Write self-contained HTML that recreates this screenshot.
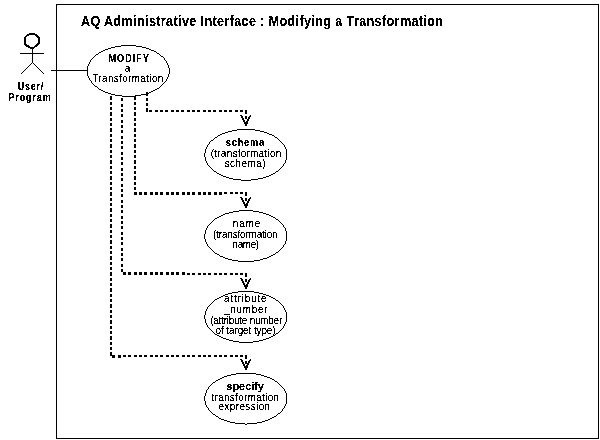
<!DOCTYPE html>
<html><head><meta charset="utf-8">
<style>
html,body{margin:0;padding:0;background:#fff;}
svg{display:block;will-change:transform;}
text{font-family:"Liberation Sans",sans-serif;fill:#000;}
</style></head><body>
<svg width="600" height="440" viewBox="0 0 600 440">
<defs>
<filter id="bw" x="0" y="0" width="600" height="440" filterUnits="userSpaceOnUse"><feComponentTransfer><feFuncA type="discrete" tableValues="0 0 1 1 1"/></feComponentTransfer></filter>
<filter id="bwb" x="0" y="0" width="600" height="440" filterUnits="userSpaceOnUse"><feComponentTransfer><feFuncA type="discrete" tableValues="0 1 1"/></feComponentTransfer></filter>
<filter id="bwt" x="0" y="0" width="600" height="440" filterUnits="userSpaceOnUse"><feComponentTransfer><feFuncA type="discrete" tableValues="0 0 1 1 1"/></feComponentTransfer></filter>
</defs>
<rect x="0" y="0" width="600" height="440" fill="#fff"/>
<g fill="none" stroke="#000" shape-rendering="crispEdges">
<path d="M56.5 4.5H598.5V438.5H56.5Z" stroke-width="1"/>
<path d="M20 53.5H44M32.5 48V62.5" stroke-width="1"/>
<path d="M51 70.5H87.5" stroke-width="1"/>
<g fill="#000" stroke="none"><rect x="29" y="33" width="6" height="1"/><rect x="27" y="34" width="10" height="1"/><rect x="26" y="35" width="3" height="1"/><rect x="35" y="35" width="3" height="1"/><rect x="25" y="36" width="2" height="1"/><rect x="36" y="36" width="3" height="1"/><rect x="24" y="37" width="2" height="1"/><rect x="37" y="37" width="3" height="1"/><rect x="24" y="38" width="2" height="1"/><rect x="38" y="38" width="2" height="1"/><rect x="24" y="39" width="2" height="1"/><rect x="38" y="39" width="2" height="1"/><rect x="24" y="40" width="2" height="1"/><rect x="38" y="40" width="2" height="1"/><rect x="24" y="41" width="2" height="1"/><rect x="38" y="41" width="2" height="1"/><rect x="24" y="42" width="2" height="1"/><rect x="38" y="42" width="2" height="1"/><rect x="24" y="43" width="2" height="1"/><rect x="37" y="43" width="3" height="1"/><rect x="24" y="44" width="3" height="1"/><rect x="36" y="44" width="3" height="1"/><rect x="25" y="45" width="4" height="1"/><rect x="35" y="45" width="3" height="1"/><rect x="26" y="46" width="4" height="1"/><rect x="34" y="46" width="3" height="1"/><rect x="28" y="47" width="7" height="1"/><rect x="30" y="48" width="4" height="1"/></g>
<g fill="#000" stroke="none"><rect x="31" y="63" width="1" height="1"/><rect x="33" y="63" width="1" height="1"/><rect x="30" y="64" width="1" height="1"/><rect x="34" y="64" width="1" height="1"/><rect x="29" y="65" width="1" height="1"/><rect x="35" y="65" width="1" height="1"/><rect x="28" y="66" width="1" height="1"/><rect x="36" y="66" width="1" height="1"/><rect x="27" y="67" width="1" height="1"/><rect x="37" y="67" width="1" height="1"/><rect x="26" y="68" width="1" height="1"/><rect x="38" y="68" width="1" height="1"/><rect x="25" y="69" width="1" height="1"/><rect x="39" y="69" width="1" height="1"/><rect x="24" y="70" width="1" height="1"/><rect x="40" y="70" width="1" height="1"/><rect x="23" y="71" width="1" height="1"/><rect x="41" y="71" width="1" height="1"/><rect x="22" y="72" width="1" height="1"/><rect x="42" y="72" width="1" height="1"/><rect x="21" y="73" width="1" height="1"/><rect x="43" y="73" width="1" height="1"/></g>
</g>
<g fill="#000" shape-rendering="crispEdges"><rect x="121" y="45" width="15" height="1"/><rect x="115" y="46" width="6" height="1"/><rect x="136" y="46" width="6" height="1"/><rect x="111" y="47" width="4" height="1"/><rect x="142" y="47" width="4" height="1"/><rect x="108" y="48" width="3" height="1"/><rect x="146" y="48" width="3" height="1"/><rect x="105" y="49" width="3" height="1"/><rect x="149" y="49" width="2" height="1"/><rect x="103" y="50" width="2" height="1"/><rect x="151" y="50" width="3" height="1"/><rect x="101" y="51" width="2" height="1"/><rect x="154" y="51" width="2" height="1"/><rect x="99" y="52" width="2" height="1"/><rect x="156" y="52" width="1" height="1"/><rect x="98" y="53" width="1" height="1"/><rect x="157" y="53" width="2" height="1"/><rect x="96" y="54" width="2" height="1"/><rect x="159" y="54" width="1" height="1"/><rect x="95" y="55" width="1" height="1"/><rect x="160" y="55" width="1" height="1"/><rect x="94" y="56" width="1" height="1"/><rect x="161" y="56" width="2" height="1"/><rect x="93" y="57" width="1" height="1"/><rect x="163" y="57" width="1" height="1"/><rect x="92" y="58" width="1" height="1"/><rect x="164" y="58" width="1" height="1"/><rect x="91" y="59" width="1" height="1"/><rect x="164" y="59" width="1" height="1"/><rect x="90" y="60" width="1" height="1"/><rect x="165" y="60" width="1" height="1"/><rect x="90" y="61" width="1" height="1"/><rect x="166" y="61" width="1" height="1"/><rect x="89" y="62" width="1" height="1"/><rect x="166" y="62" width="1" height="1"/><rect x="89" y="63" width="1" height="1"/><rect x="167" y="63" width="1" height="1"/><rect x="88" y="64" width="1" height="1"/><rect x="167" y="64" width="1" height="1"/><rect x="88" y="65" width="1" height="1"/><rect x="168" y="65" width="1" height="1"/><rect x="87" y="66" width="1" height="1"/><rect x="168" y="66" width="1" height="1"/><rect x="87" y="67" width="1" height="1"/><rect x="168" y="67" width="1" height="1"/><rect x="87" y="68" width="1" height="1"/><rect x="169" y="68" width="1" height="1"/><rect x="87" y="69" width="1" height="1"/><rect x="169" y="69" width="1" height="1"/><rect x="87" y="70" width="1" height="1"/><rect x="169" y="70" width="1" height="1"/><rect x="87" y="71" width="1" height="1"/><rect x="169" y="71" width="1" height="1"/><rect x="87" y="72" width="1" height="1"/><rect x="169" y="72" width="1" height="1"/><rect x="87" y="73" width="1" height="1"/><rect x="169" y="73" width="1" height="1"/><rect x="87" y="74" width="1" height="1"/><rect x="168" y="74" width="1" height="1"/><rect x="87" y="75" width="1" height="1"/><rect x="168" y="75" width="1" height="1"/><rect x="88" y="76" width="1" height="1"/><rect x="168" y="76" width="1" height="1"/><rect x="88" y="77" width="1" height="1"/><rect x="167" y="77" width="1" height="1"/><rect x="89" y="78" width="1" height="1"/><rect x="167" y="78" width="1" height="1"/><rect x="89" y="79" width="1" height="1"/><rect x="166" y="79" width="1" height="1"/><rect x="90" y="80" width="1" height="1"/><rect x="166" y="80" width="1" height="1"/><rect x="91" y="81" width="1" height="1"/><rect x="165" y="81" width="1" height="1"/><rect x="91" y="82" width="1" height="1"/><rect x="164" y="82" width="1" height="1"/><rect x="92" y="83" width="1" height="1"/><rect x="163" y="83" width="1" height="1"/><rect x="93" y="84" width="1" height="1"/><rect x="162" y="84" width="1" height="1"/><rect x="94" y="85" width="1" height="1"/><rect x="161" y="85" width="1" height="1"/><rect x="95" y="86" width="2" height="1"/><rect x="160" y="86" width="1" height="1"/><rect x="97" y="87" width="1" height="1"/><rect x="159" y="87" width="1" height="1"/><rect x="98" y="88" width="1" height="1"/><rect x="157" y="88" width="2" height="1"/><rect x="99" y="89" width="2" height="1"/><rect x="155" y="89" width="2" height="1"/><rect x="101" y="90" width="2" height="1"/><rect x="153" y="90" width="2" height="1"/><rect x="103" y="91" width="2" height="1"/><rect x="151" y="91" width="2" height="1"/><rect x="105" y="92" width="3" height="1"/><rect x="149" y="92" width="2" height="1"/><rect x="108" y="93" width="3" height="1"/><rect x="146" y="93" width="3" height="1"/><rect x="111" y="94" width="4" height="1"/><rect x="141" y="94" width="5" height="1"/><rect x="115" y="95" width="7" height="1"/><rect x="135" y="95" width="6" height="1"/><rect x="122" y="96" width="13" height="1"/><rect x="237" y="129" width="18" height="1"/><rect x="232" y="130" width="5" height="1"/><rect x="255" y="130" width="5" height="1"/><rect x="228" y="131" width="4" height="1"/><rect x="260" y="131" width="4" height="1"/><rect x="225" y="132" width="3" height="1"/><rect x="264" y="132" width="3" height="1"/><rect x="222" y="133" width="3" height="1"/><rect x="267" y="133" width="2" height="1"/><rect x="220" y="134" width="2" height="1"/><rect x="269" y="134" width="3" height="1"/><rect x="218" y="135" width="2" height="1"/><rect x="272" y="135" width="2" height="1"/><rect x="217" y="136" width="1" height="1"/><rect x="274" y="136" width="1" height="1"/><rect x="215" y="137" width="2" height="1"/><rect x="275" y="137" width="2" height="1"/><rect x="214" y="138" width="1" height="1"/><rect x="277" y="138" width="1" height="1"/><rect x="213" y="139" width="1" height="1"/><rect x="278" y="139" width="1" height="1"/><rect x="211" y="140" width="2" height="1"/><rect x="279" y="140" width="1" height="1"/><rect x="210" y="141" width="1" height="1"/><rect x="280" y="141" width="1" height="1"/><rect x="209" y="142" width="1" height="1"/><rect x="281" y="142" width="1" height="1"/><rect x="209" y="143" width="1" height="1"/><rect x="282" y="143" width="1" height="1"/><rect x="208" y="144" width="1" height="1"/><rect x="283" y="144" width="1" height="1"/><rect x="207" y="145" width="1" height="1"/><rect x="284" y="145" width="1" height="1"/><rect x="207" y="146" width="1" height="1"/><rect x="284" y="146" width="1" height="1"/><rect x="206" y="147" width="1" height="1"/><rect x="285" y="147" width="1" height="1"/><rect x="206" y="148" width="1" height="1"/><rect x="285" y="148" width="1" height="1"/><rect x="205" y="149" width="1" height="1"/><rect x="286" y="149" width="1" height="1"/><rect x="205" y="150" width="1" height="1"/><rect x="286" y="150" width="1" height="1"/><rect x="205" y="151" width="1" height="1"/><rect x="286" y="151" width="1" height="1"/><rect x="205" y="152" width="1" height="1"/><rect x="286" y="152" width="1" height="1"/><rect x="204" y="153" width="1" height="1"/><rect x="286" y="153" width="1" height="1"/><rect x="204" y="154" width="1" height="1"/><rect x="286" y="154" width="1" height="1"/><rect x="204" y="155" width="1" height="1"/><rect x="286" y="155" width="1" height="1"/><rect x="204" y="156" width="1" height="1"/><rect x="286" y="156" width="1" height="1"/><rect x="205" y="157" width="1" height="1"/><rect x="286" y="157" width="1" height="1"/><rect x="205" y="158" width="1" height="1"/><rect x="286" y="158" width="1" height="1"/><rect x="205" y="159" width="1" height="1"/><rect x="286" y="159" width="1" height="1"/><rect x="205" y="160" width="1" height="1"/><rect x="285" y="160" width="1" height="1"/><rect x="206" y="161" width="1" height="1"/><rect x="285" y="161" width="1" height="1"/><rect x="206" y="162" width="1" height="1"/><rect x="285" y="162" width="1" height="1"/><rect x="207" y="163" width="1" height="1"/><rect x="284" y="163" width="1" height="1"/><rect x="207" y="164" width="1" height="1"/><rect x="283" y="164" width="1" height="1"/><rect x="208" y="165" width="1" height="1"/><rect x="283" y="165" width="1" height="1"/><rect x="209" y="166" width="1" height="1"/><rect x="282" y="166" width="1" height="1"/><rect x="210" y="167" width="1" height="1"/><rect x="281" y="167" width="1" height="1"/><rect x="211" y="168" width="1" height="1"/><rect x="280" y="168" width="1" height="1"/><rect x="212" y="169" width="1" height="1"/><rect x="279" y="169" width="1" height="1"/><rect x="213" y="170" width="1" height="1"/><rect x="278" y="170" width="1" height="1"/><rect x="214" y="171" width="2" height="1"/><rect x="276" y="171" width="2" height="1"/><rect x="216" y="172" width="1" height="1"/><rect x="275" y="172" width="1" height="1"/><rect x="217" y="173" width="2" height="1"/><rect x="273" y="173" width="2" height="1"/><rect x="219" y="174" width="2" height="1"/><rect x="271" y="174" width="2" height="1"/><rect x="221" y="175" width="2" height="1"/><rect x="269" y="175" width="2" height="1"/><rect x="223" y="176" width="3" height="1"/><rect x="266" y="176" width="3" height="1"/><rect x="226" y="177" width="3" height="1"/><rect x="263" y="177" width="3" height="1"/><rect x="229" y="178" width="4" height="1"/><rect x="258" y="178" width="5" height="1"/><rect x="233" y="179" width="8" height="1"/><rect x="251" y="179" width="7" height="1"/><rect x="241" y="180" width="10" height="1"/><rect x="239" y="210" width="14" height="1"/><rect x="233" y="211" width="6" height="1"/><rect x="253" y="211" width="6" height="1"/><rect x="229" y="212" width="4" height="1"/><rect x="259" y="212" width="4" height="1"/><rect x="225" y="213" width="4" height="1"/><rect x="263" y="213" width="3" height="1"/><rect x="223" y="214" width="2" height="1"/><rect x="266" y="214" width="3" height="1"/><rect x="221" y="215" width="2" height="1"/><rect x="269" y="215" width="2" height="1"/><rect x="219" y="216" width="2" height="1"/><rect x="271" y="216" width="2" height="1"/><rect x="217" y="217" width="2" height="1"/><rect x="273" y="217" width="2" height="1"/><rect x="215" y="218" width="2" height="1"/><rect x="275" y="218" width="1" height="1"/><rect x="214" y="219" width="1" height="1"/><rect x="276" y="219" width="2" height="1"/><rect x="213" y="220" width="1" height="1"/><rect x="278" y="220" width="1" height="1"/><rect x="212" y="221" width="1" height="1"/><rect x="279" y="221" width="1" height="1"/><rect x="211" y="222" width="1" height="1"/><rect x="280" y="222" width="1" height="1"/><rect x="210" y="223" width="1" height="1"/><rect x="281" y="223" width="1" height="1"/><rect x="209" y="224" width="1" height="1"/><rect x="282" y="224" width="1" height="1"/><rect x="208" y="225" width="1" height="1"/><rect x="283" y="225" width="1" height="1"/><rect x="207" y="226" width="1" height="1"/><rect x="283" y="226" width="1" height="1"/><rect x="207" y="227" width="1" height="1"/><rect x="284" y="227" width="1" height="1"/><rect x="206" y="228" width="1" height="1"/><rect x="285" y="228" width="1" height="1"/><rect x="206" y="229" width="1" height="1"/><rect x="285" y="229" width="1" height="1"/><rect x="205" y="230" width="1" height="1"/><rect x="285" y="230" width="1" height="1"/><rect x="205" y="231" width="1" height="1"/><rect x="286" y="231" width="1" height="1"/><rect x="205" y="232" width="1" height="1"/><rect x="286" y="232" width="1" height="1"/><rect x="205" y="233" width="1" height="1"/><rect x="286" y="233" width="1" height="1"/><rect x="204" y="234" width="1" height="1"/><rect x="286" y="234" width="1" height="1"/><rect x="204" y="235" width="1" height="1"/><rect x="286" y="235" width="1" height="1"/><rect x="204" y="236" width="1" height="1"/><rect x="286" y="236" width="1" height="1"/><rect x="204" y="237" width="1" height="1"/><rect x="286" y="237" width="1" height="1"/><rect x="204" y="238" width="1" height="1"/><rect x="286" y="238" width="1" height="1"/><rect x="205" y="239" width="1" height="1"/><rect x="286" y="239" width="1" height="1"/><rect x="205" y="240" width="1" height="1"/><rect x="286" y="240" width="1" height="1"/><rect x="205" y="241" width="1" height="1"/><rect x="285" y="241" width="1" height="1"/><rect x="206" y="242" width="1" height="1"/><rect x="285" y="242" width="1" height="1"/><rect x="206" y="243" width="1" height="1"/><rect x="285" y="243" width="1" height="1"/><rect x="207" y="244" width="1" height="1"/><rect x="284" y="244" width="1" height="1"/><rect x="207" y="245" width="1" height="1"/><rect x="283" y="245" width="1" height="1"/><rect x="208" y="246" width="1" height="1"/><rect x="283" y="246" width="1" height="1"/><rect x="209" y="247" width="1" height="1"/><rect x="282" y="247" width="1" height="1"/><rect x="210" y="248" width="1" height="1"/><rect x="281" y="248" width="1" height="1"/><rect x="211" y="249" width="1" height="1"/><rect x="280" y="249" width="1" height="1"/><rect x="212" y="250" width="1" height="1"/><rect x="279" y="250" width="1" height="1"/><rect x="213" y="251" width="1" height="1"/><rect x="278" y="251" width="1" height="1"/><rect x="214" y="252" width="1" height="1"/><rect x="276" y="252" width="2" height="1"/><rect x="215" y="253" width="2" height="1"/><rect x="275" y="253" width="1" height="1"/><rect x="217" y="254" width="2" height="1"/><rect x="273" y="254" width="2" height="1"/><rect x="219" y="255" width="1" height="1"/><rect x="271" y="255" width="2" height="1"/><rect x="220" y="256" width="3" height="1"/><rect x="269" y="256" width="2" height="1"/><rect x="223" y="257" width="2" height="1"/><rect x="267" y="257" width="2" height="1"/><rect x="225" y="258" width="3" height="1"/><rect x="263" y="258" width="4" height="1"/><rect x="228" y="259" width="4" height="1"/><rect x="260" y="259" width="3" height="1"/><rect x="232" y="260" width="6" height="1"/><rect x="254" y="260" width="6" height="1"/><rect x="238" y="261" width="16" height="1"/><rect x="238" y="291" width="16" height="1"/><rect x="232" y="292" width="6" height="1"/><rect x="254" y="292" width="5" height="1"/><rect x="228" y="293" width="4" height="1"/><rect x="259" y="293" width="4" height="1"/><rect x="225" y="294" width="3" height="1"/><rect x="263" y="294" width="3" height="1"/><rect x="223" y="295" width="2" height="1"/><rect x="266" y="295" width="3" height="1"/><rect x="221" y="296" width="2" height="1"/><rect x="269" y="296" width="2" height="1"/><rect x="219" y="297" width="2" height="1"/><rect x="271" y="297" width="2" height="1"/><rect x="217" y="298" width="2" height="1"/><rect x="273" y="298" width="2" height="1"/><rect x="215" y="299" width="2" height="1"/><rect x="275" y="299" width="1" height="1"/><rect x="214" y="300" width="1" height="1"/><rect x="276" y="300" width="2" height="1"/><rect x="213" y="301" width="1" height="1"/><rect x="278" y="301" width="1" height="1"/><rect x="212" y="302" width="1" height="1"/><rect x="279" y="302" width="1" height="1"/><rect x="211" y="303" width="1" height="1"/><rect x="280" y="303" width="1" height="1"/><rect x="210" y="304" width="1" height="1"/><rect x="281" y="304" width="1" height="1"/><rect x="209" y="305" width="1" height="1"/><rect x="282" y="305" width="1" height="1"/><rect x="208" y="306" width="1" height="1"/><rect x="283" y="306" width="1" height="1"/><rect x="207" y="307" width="1" height="1"/><rect x="283" y="307" width="1" height="1"/><rect x="207" y="308" width="1" height="1"/><rect x="284" y="308" width="1" height="1"/><rect x="206" y="309" width="1" height="1"/><rect x="284" y="309" width="1" height="1"/><rect x="206" y="310" width="1" height="1"/><rect x="285" y="310" width="1" height="1"/><rect x="205" y="311" width="1" height="1"/><rect x="285" y="311" width="1" height="1"/><rect x="205" y="312" width="1" height="1"/><rect x="286" y="312" width="1" height="1"/><rect x="205" y="313" width="1" height="1"/><rect x="286" y="313" width="1" height="1"/><rect x="205" y="314" width="1" height="1"/><rect x="286" y="314" width="1" height="1"/><rect x="204" y="315" width="1" height="1"/><rect x="286" y="315" width="1" height="1"/><rect x="204" y="316" width="1" height="1"/><rect x="286" y="316" width="1" height="1"/><rect x="204" y="317" width="1" height="1"/><rect x="286" y="317" width="1" height="1"/><rect x="204" y="318" width="1" height="1"/><rect x="286" y="318" width="1" height="1"/><rect x="205" y="319" width="1" height="1"/><rect x="286" y="319" width="1" height="1"/><rect x="205" y="320" width="1" height="1"/><rect x="286" y="320" width="1" height="1"/><rect x="205" y="321" width="1" height="1"/><rect x="286" y="321" width="1" height="1"/><rect x="205" y="322" width="1" height="1"/><rect x="285" y="322" width="1" height="1"/><rect x="206" y="323" width="1" height="1"/><rect x="285" y="323" width="1" height="1"/><rect x="206" y="324" width="1" height="1"/><rect x="284" y="324" width="1" height="1"/><rect x="207" y="325" width="1" height="1"/><rect x="284" y="325" width="1" height="1"/><rect x="207" y="326" width="1" height="1"/><rect x="283" y="326" width="1" height="1"/><rect x="208" y="327" width="1" height="1"/><rect x="283" y="327" width="1" height="1"/><rect x="209" y="328" width="1" height="1"/><rect x="282" y="328" width="1" height="1"/><rect x="210" y="329" width="1" height="1"/><rect x="281" y="329" width="1" height="1"/><rect x="211" y="330" width="1" height="1"/><rect x="280" y="330" width="1" height="1"/><rect x="212" y="331" width="1" height="1"/><rect x="279" y="331" width="1" height="1"/><rect x="213" y="332" width="1" height="1"/><rect x="278" y="332" width="1" height="1"/><rect x="214" y="333" width="1" height="1"/><rect x="276" y="333" width="2" height="1"/><rect x="215" y="334" width="2" height="1"/><rect x="275" y="334" width="1" height="1"/><rect x="217" y="335" width="2" height="1"/><rect x="273" y="335" width="2" height="1"/><rect x="219" y="336" width="2" height="1"/><rect x="271" y="336" width="2" height="1"/><rect x="221" y="337" width="2" height="1"/><rect x="269" y="337" width="2" height="1"/><rect x="223" y="338" width="3" height="1"/><rect x="266" y="338" width="3" height="1"/><rect x="226" y="339" width="3" height="1"/><rect x="263" y="339" width="3" height="1"/><rect x="229" y="340" width="4" height="1"/><rect x="259" y="340" width="4" height="1"/><rect x="233" y="341" width="6" height="1"/><rect x="253" y="341" width="6" height="1"/><rect x="239" y="342" width="14" height="1"/><rect x="236" y="373" width="20" height="1"/><rect x="231" y="374" width="5" height="1"/><rect x="256" y="374" width="5" height="1"/><rect x="227" y="375" width="4" height="1"/><rect x="261" y="375" width="3" height="1"/><rect x="224" y="376" width="3" height="1"/><rect x="264" y="376" width="3" height="1"/><rect x="222" y="377" width="2" height="1"/><rect x="267" y="377" width="3" height="1"/><rect x="220" y="378" width="2" height="1"/><rect x="270" y="378" width="2" height="1"/><rect x="218" y="379" width="2" height="1"/><rect x="272" y="379" width="2" height="1"/><rect x="216" y="380" width="2" height="1"/><rect x="274" y="380" width="1" height="1"/><rect x="215" y="381" width="1" height="1"/><rect x="275" y="381" width="2" height="1"/><rect x="213" y="382" width="2" height="1"/><rect x="277" y="382" width="1" height="1"/><rect x="212" y="383" width="1" height="1"/><rect x="278" y="383" width="1" height="1"/><rect x="211" y="384" width="1" height="1"/><rect x="279" y="384" width="1" height="1"/><rect x="210" y="385" width="1" height="1"/><rect x="280" y="385" width="1" height="1"/><rect x="209" y="386" width="1" height="1"/><rect x="281" y="386" width="1" height="1"/><rect x="208" y="387" width="1" height="1"/><rect x="282" y="387" width="1" height="1"/><rect x="208" y="388" width="1" height="1"/><rect x="283" y="388" width="1" height="1"/><rect x="207" y="389" width="1" height="1"/><rect x="284" y="389" width="1" height="1"/><rect x="206" y="390" width="1" height="1"/><rect x="284" y="390" width="1" height="1"/><rect x="206" y="391" width="1" height="1"/><rect x="285" y="391" width="1" height="1"/><rect x="206" y="392" width="1" height="1"/><rect x="285" y="392" width="1" height="1"/><rect x="205" y="393" width="1" height="1"/><rect x="286" y="393" width="1" height="1"/><rect x="205" y="394" width="1" height="1"/><rect x="286" y="394" width="1" height="1"/><rect x="205" y="395" width="1" height="1"/><rect x="286" y="395" width="1" height="1"/><rect x="204" y="396" width="1" height="1"/><rect x="286" y="396" width="1" height="1"/><rect x="204" y="397" width="1" height="1"/><rect x="286" y="397" width="1" height="1"/><rect x="204" y="398" width="1" height="1"/><rect x="286" y="398" width="1" height="1"/><rect x="204" y="399" width="1" height="1"/><rect x="286" y="399" width="1" height="1"/><rect x="204" y="400" width="1" height="1"/><rect x="286" y="400" width="1" height="1"/><rect x="205" y="401" width="1" height="1"/><rect x="286" y="401" width="1" height="1"/><rect x="205" y="402" width="1" height="1"/><rect x="286" y="402" width="1" height="1"/><rect x="205" y="403" width="1" height="1"/><rect x="286" y="403" width="1" height="1"/><rect x="205" y="404" width="1" height="1"/><rect x="285" y="404" width="1" height="1"/><rect x="206" y="405" width="1" height="1"/><rect x="285" y="405" width="1" height="1"/><rect x="206" y="406" width="1" height="1"/><rect x="284" y="406" width="1" height="1"/><rect x="207" y="407" width="1" height="1"/><rect x="284" y="407" width="1" height="1"/><rect x="208" y="408" width="1" height="1"/><rect x="283" y="408" width="1" height="1"/><rect x="208" y="409" width="1" height="1"/><rect x="282" y="409" width="1" height="1"/><rect x="209" y="410" width="1" height="1"/><rect x="282" y="410" width="1" height="1"/><rect x="210" y="411" width="1" height="1"/><rect x="281" y="411" width="1" height="1"/><rect x="211" y="412" width="1" height="1"/><rect x="280" y="412" width="1" height="1"/><rect x="212" y="413" width="1" height="1"/><rect x="278" y="413" width="2" height="1"/><rect x="213" y="414" width="2" height="1"/><rect x="277" y="414" width="1" height="1"/><rect x="215" y="415" width="1" height="1"/><rect x="276" y="415" width="1" height="1"/><rect x="216" y="416" width="2" height="1"/><rect x="274" y="416" width="2" height="1"/><rect x="218" y="417" width="1" height="1"/><rect x="272" y="417" width="2" height="1"/><rect x="219" y="418" width="2" height="1"/><rect x="270" y="418" width="2" height="1"/><rect x="221" y="419" width="3" height="1"/><rect x="268" y="419" width="2" height="1"/><rect x="224" y="420" width="3" height="1"/><rect x="265" y="420" width="3" height="1"/><rect x="227" y="421" width="3" height="1"/><rect x="262" y="421" width="3" height="1"/><rect x="230" y="422" width="5" height="1"/><rect x="257" y="422" width="5" height="1"/><rect x="235" y="423" width="10" height="1"/><rect x="247" y="423" width="10" height="1"/><rect x="245" y="424" width="2" height="1"/></g>
<g fill="#000" shape-rendering="crispEdges">
<rect x="146" y="92" width="2" height="4"/><rect x="146" y="98" width="2" height="3"/><rect x="146" y="103" width="2" height="3"/><rect x="146" y="108" width="2" height="4"/><rect x="149" y="110" width="3" height="2"/><rect x="155" y="110" width="3" height="2"/><rect x="160" y="110" width="3" height="2"/><rect x="165" y="110" width="3" height="2"/><rect x="171" y="110" width="3" height="2"/><rect x="176" y="110" width="3" height="2"/><rect x="181" y="110" width="3" height="2"/><rect x="187" y="110" width="3" height="2"/><rect x="192" y="110" width="3" height="2"/><rect x="197" y="110" width="3" height="2"/><rect x="203" y="110" width="3" height="2"/><rect x="208" y="110" width="3" height="2"/><rect x="213" y="110" width="3" height="2"/><rect x="219" y="110" width="3" height="2"/><rect x="224" y="110" width="3" height="2"/><rect x="229" y="110" width="3" height="2"/><rect x="235" y="110" width="3" height="2"/><rect x="240" y="110" width="3" height="2"/><rect x="134" y="96" width="2" height="4"/><rect x="134" y="102" width="2" height="3"/><rect x="134" y="107" width="2" height="3"/><rect x="134" y="112" width="2" height="4"/><rect x="134" y="118" width="2" height="3"/><rect x="134" y="123" width="2" height="3"/><rect x="134" y="128" width="2" height="4"/><rect x="134" y="134" width="2" height="3"/><rect x="134" y="139" width="2" height="3"/><rect x="134" y="144" width="2" height="4"/><rect x="134" y="150" width="2" height="3"/><rect x="134" y="155" width="2" height="3"/><rect x="134" y="160" width="2" height="4"/><rect x="134" y="166" width="2" height="3"/><rect x="134" y="171" width="2" height="3"/><rect x="134" y="176" width="2" height="4"/><rect x="134" y="182" width="2" height="3"/><rect x="134" y="187" width="2" height="3"/><rect x="134" y="192" width="3" height="3"/><rect x="139" y="192" width="3" height="3"/><rect x="144" y="192" width="3" height="3"/><rect x="150" y="192" width="3" height="3"/><rect x="155" y="192" width="3" height="3"/><rect x="160" y="192" width="3" height="3"/><rect x="166" y="192" width="3" height="3"/><rect x="171" y="192" width="3" height="3"/><rect x="176" y="192" width="3" height="3"/><rect x="182" y="192" width="3" height="3"/><rect x="187" y="192" width="3" height="3"/><rect x="192" y="192" width="3" height="3"/><rect x="198" y="192" width="3" height="3"/><rect x="203" y="192" width="3" height="3"/><rect x="208" y="192" width="3" height="3"/><rect x="214" y="192" width="3" height="3"/><rect x="219" y="192" width="3" height="3"/><rect x="224" y="192" width="3" height="2"/><rect x="230" y="192" width="3" height="2"/><rect x="235" y="192" width="3" height="2"/><rect x="240" y="192" width="3" height="2"/><rect x="121" y="98" width="2" height="3"/><rect x="121" y="104" width="2" height="3"/><rect x="121" y="109" width="2" height="3"/><rect x="121" y="114" width="2" height="3"/><rect x="121" y="120" width="2" height="3"/><rect x="121" y="125" width="2" height="3"/><rect x="121" y="130" width="2" height="3"/><rect x="121" y="136" width="2" height="3"/><rect x="121" y="141" width="2" height="3"/><rect x="121" y="146" width="2" height="3"/><rect x="121" y="152" width="2" height="3"/><rect x="121" y="157" width="2" height="3"/><rect x="121" y="162" width="2" height="3"/><rect x="121" y="168" width="2" height="3"/><rect x="121" y="173" width="2" height="3"/><rect x="121" y="178" width="2" height="3"/><rect x="121" y="184" width="2" height="3"/><rect x="121" y="189" width="2" height="3"/><rect x="121" y="194" width="2" height="3"/><rect x="121" y="200" width="2" height="3"/><rect x="121" y="205" width="2" height="3"/><rect x="121" y="210" width="2" height="3"/><rect x="121" y="216" width="2" height="3"/><rect x="121" y="221" width="2" height="3"/><rect x="121" y="226" width="2" height="3"/><rect x="121" y="232" width="2" height="3"/><rect x="121" y="237" width="2" height="3"/><rect x="121" y="242" width="2" height="3"/><rect x="121" y="248" width="2" height="3"/><rect x="121" y="253" width="2" height="3"/><rect x="121" y="258" width="2" height="3"/><rect x="121" y="264" width="2" height="3"/><rect x="121" y="269" width="2" height="3"/><rect x="123" y="272" width="3" height="3"/><rect x="128" y="272" width="3" height="3"/><rect x="134" y="272" width="3" height="3"/><rect x="139" y="272" width="3" height="3"/><rect x="144" y="272" width="3" height="3"/><rect x="150" y="272" width="3" height="3"/><rect x="155" y="272" width="3" height="3"/><rect x="160" y="272" width="3" height="3"/><rect x="166" y="272" width="3" height="3"/><rect x="171" y="272" width="3" height="3"/><rect x="176" y="272" width="3" height="3"/><rect x="182" y="272" width="3" height="3"/><rect x="187" y="273" width="3" height="2"/><rect x="192" y="273" width="3" height="2"/><rect x="198" y="273" width="3" height="2"/><rect x="203" y="273" width="3" height="2"/><rect x="208" y="273" width="3" height="2"/><rect x="214" y="273" width="3" height="2"/><rect x="219" y="273" width="3" height="2"/><rect x="224" y="273" width="3" height="2"/><rect x="230" y="273" width="3" height="2"/><rect x="235" y="273" width="3" height="2"/><rect x="240" y="273" width="3" height="2"/><rect x="110" y="96" width="2" height="4"/><rect x="110" y="102" width="2" height="3"/><rect x="110" y="107" width="2" height="3"/><rect x="110" y="112" width="2" height="4"/><rect x="110" y="118" width="2" height="3"/><rect x="110" y="123" width="2" height="3"/><rect x="110" y="128" width="2" height="4"/><rect x="110" y="134" width="2" height="3"/><rect x="110" y="139" width="2" height="3"/><rect x="110" y="144" width="2" height="4"/><rect x="110" y="150" width="2" height="3"/><rect x="110" y="155" width="2" height="3"/><rect x="110" y="160" width="2" height="4"/><rect x="110" y="166" width="2" height="3"/><rect x="110" y="171" width="2" height="3"/><rect x="110" y="176" width="2" height="4"/><rect x="110" y="182" width="2" height="3"/><rect x="110" y="187" width="2" height="3"/><rect x="110" y="192" width="2" height="4"/><rect x="110" y="198" width="2" height="3"/><rect x="110" y="203" width="2" height="3"/><rect x="110" y="208" width="2" height="4"/><rect x="110" y="214" width="2" height="3"/><rect x="110" y="219" width="2" height="3"/><rect x="110" y="224" width="2" height="4"/><rect x="110" y="230" width="2" height="3"/><rect x="110" y="235" width="2" height="3"/><rect x="110" y="240" width="2" height="4"/><rect x="110" y="246" width="2" height="3"/><rect x="110" y="251" width="2" height="3"/><rect x="110" y="256" width="2" height="4"/><rect x="110" y="262" width="2" height="3"/><rect x="110" y="267" width="2" height="3"/><rect x="110" y="272" width="2" height="4"/><rect x="110" y="278" width="2" height="3"/><rect x="110" y="283" width="2" height="3"/><rect x="110" y="288" width="2" height="4"/><rect x="110" y="294" width="2" height="3"/><rect x="110" y="299" width="2" height="3"/><rect x="110" y="304" width="2" height="4"/><rect x="110" y="310" width="2" height="3"/><rect x="110" y="315" width="2" height="3"/><rect x="110" y="320" width="2" height="4"/><rect x="110" y="326" width="2" height="3"/><rect x="110" y="331" width="2" height="3"/><rect x="110" y="336" width="2" height="4"/><rect x="110" y="342" width="2" height="3"/><rect x="110" y="347" width="2" height="3"/><rect x="110" y="352" width="2" height="4"/><rect x="112" y="355" width="3" height="3"/><rect x="118" y="355" width="3" height="3"/><rect x="123" y="355" width="3" height="2"/><rect x="128" y="355" width="3" height="2"/><rect x="134" y="355" width="3" height="2"/><rect x="139" y="355" width="3" height="2"/><rect x="144" y="355" width="3" height="2"/><rect x="150" y="355" width="3" height="2"/><rect x="155" y="355" width="3" height="2"/><rect x="160" y="355" width="3" height="2"/><rect x="166" y="355" width="3" height="2"/><rect x="171" y="355" width="3" height="2"/><rect x="176" y="355" width="3" height="2"/><rect x="182" y="355" width="3" height="2"/><rect x="187" y="355" width="3" height="2"/><rect x="192" y="355" width="3" height="2"/><rect x="198" y="355" width="3" height="2"/><rect x="203" y="355" width="3" height="2"/><rect x="208" y="355" width="3" height="2"/><rect x="214" y="355" width="3" height="2"/><rect x="219" y="355" width="3" height="2"/><rect x="224" y="355" width="3" height="2"/><rect x="230" y="355" width="3" height="2"/><rect x="235" y="355" width="3" height="2"/><rect x="240" y="355" width="3" height="2"/><rect x="245" y="110" width="2" height="4"/><rect x="245" y="116" width="2" height="3"/><rect x="240" y="115" width="2" height="1"/><rect x="250" y="115" width="1" height="1"/><rect x="241" y="116" width="2" height="1"/><rect x="249" y="116" width="2" height="1"/><rect x="241" y="117" width="2" height="1"/><rect x="248" y="117" width="2" height="1"/><rect x="242" y="118" width="2" height="1"/><rect x="248" y="118" width="2" height="1"/><rect x="242" y="119" width="2" height="1"/><rect x="247" y="119" width="2" height="1"/><rect x="243" y="120" width="2" height="1"/><rect x="247" y="120" width="2" height="1"/><rect x="243" y="121" width="2" height="1"/><rect x="246" y="121" width="2" height="1"/><rect x="244" y="122" width="4" height="1"/><rect x="244" y="123" width="4" height="1"/><rect x="245" y="124" width="2" height="1"/><rect x="245" y="125" width="2" height="1"/><rect x="245" y="192" width="2" height="4"/><rect x="245" y="198" width="2" height="3"/><rect x="240" y="197" width="2" height="1"/><rect x="250" y="197" width="1" height="1"/><rect x="241" y="198" width="2" height="1"/><rect x="249" y="198" width="2" height="1"/><rect x="241" y="199" width="2" height="1"/><rect x="248" y="199" width="2" height="1"/><rect x="242" y="200" width="2" height="1"/><rect x="248" y="200" width="2" height="1"/><rect x="242" y="201" width="2" height="1"/><rect x="247" y="201" width="2" height="1"/><rect x="243" y="202" width="2" height="1"/><rect x="247" y="202" width="2" height="1"/><rect x="243" y="203" width="2" height="1"/><rect x="246" y="203" width="2" height="1"/><rect x="244" y="204" width="4" height="1"/><rect x="244" y="205" width="4" height="1"/><rect x="245" y="206" width="2" height="1"/><rect x="245" y="207" width="2" height="1"/><rect x="245" y="273" width="2" height="4"/><rect x="245" y="279" width="2" height="3"/><rect x="240" y="278" width="2" height="1"/><rect x="250" y="278" width="1" height="1"/><rect x="241" y="279" width="2" height="1"/><rect x="249" y="279" width="2" height="1"/><rect x="241" y="280" width="2" height="1"/><rect x="248" y="280" width="2" height="1"/><rect x="242" y="281" width="2" height="1"/><rect x="248" y="281" width="2" height="1"/><rect x="242" y="282" width="2" height="1"/><rect x="247" y="282" width="2" height="1"/><rect x="243" y="283" width="2" height="1"/><rect x="247" y="283" width="2" height="1"/><rect x="243" y="284" width="2" height="1"/><rect x="246" y="284" width="2" height="1"/><rect x="244" y="285" width="4" height="1"/><rect x="244" y="286" width="4" height="1"/><rect x="245" y="287" width="2" height="1"/><rect x="245" y="288" width="2" height="1"/><rect x="245" y="355" width="2" height="4"/><rect x="245" y="361" width="2" height="3"/><rect x="240" y="359" width="2" height="1"/><rect x="250" y="359" width="1" height="1"/><rect x="241" y="360" width="2" height="1"/><rect x="249" y="360" width="2" height="1"/><rect x="241" y="361" width="2" height="1"/><rect x="248" y="361" width="2" height="1"/><rect x="242" y="362" width="2" height="1"/><rect x="248" y="362" width="2" height="1"/><rect x="242" y="363" width="2" height="1"/><rect x="247" y="363" width="2" height="1"/><rect x="243" y="364" width="2" height="1"/><rect x="247" y="364" width="2" height="1"/><rect x="243" y="365" width="2" height="1"/><rect x="246" y="365" width="2" height="1"/><rect x="244" y="366" width="4" height="1"/><rect x="244" y="367" width="4" height="1"/><rect x="245" y="368" width="2" height="1"/><rect x="245" y="369" width="2" height="1"/>
</g>
<g filter="url(#bwt)">
<g transform="translate(81 26) scale(0.9 1)"><text font-size="14" font-weight="bold" textLength="402.22" lengthAdjust="spacing">AQ Administrative Interface : Modifying a Transformation</text></g>
<g transform="translate(17.7 89.5) scale(0.85 1)"><text font-size="10.5" font-weight="bold" textLength="30.00" lengthAdjust="spacing">User/</text></g>
<g transform="translate(8.6 100.5) scale(0.85 1)"><text font-size="10.5" font-weight="bold" textLength="49.41" lengthAdjust="spacing">Program</text></g>
<g transform="translate(108.4 62) scale(0.85 1)"><text font-size="11" font-weight="bold" textLength="47.65" lengthAdjust="spacing">MODIFY</text></g>
<g transform="translate(225.8 146) scale(0.85 1)"><text font-size="11" font-weight="bold" textLength="45.29" lengthAdjust="spacing">schema</text></g>
<text x="226.4" y="389.5" font-size="11" font-weight="bold" textLength="37.5" lengthAdjust="spacingAndGlyphs">specify</text>
</g>
<g filter="url(#bwb)">

</g>
<g filter="url(#bw)">
<g transform="translate(124.7 72) scale(0.9 1)"><text font-size="11" textLength="6.67" lengthAdjust="spacing">a</text></g>
<g transform="translate(92.3 81.5) scale(0.9 1)"><text font-size="11" textLength="78.89" lengthAdjust="spacing">Transformation</text></g>
<g transform="translate(210.7 156.5) scale(0.9 1)"><text font-size="11" textLength="78.33" lengthAdjust="spacing">(transformation</text></g>
<g transform="translate(224.6 167) scale(0.9 1)"><text font-size="11" textLength="45.56" lengthAdjust="spacing">schema)</text></g>
<g transform="translate(232.8 227) scale(0.9 1)"><text font-size="11" textLength="30.56" lengthAdjust="spacing">name</text></g>
<g transform="translate(213.1 237.5) scale(0.9 1)"><text font-size="11" textLength="71.67" lengthAdjust="spacing">(transformation</text></g>
<g transform="translate(232.6 247.5) scale(0.9 1)"><text font-size="11" textLength="29.44" lengthAdjust="spacing">name)</text></g>
<g transform="translate(224.1 301.5) scale(0.9 1)"><text font-size="11" textLength="47.22" lengthAdjust="spacing">attribute</text></g>
<g transform="translate(224.0 312.5) scale(0.9 1)"><text font-size="11" textLength="48.33" lengthAdjust="spacing">_number</text></g>
<g transform="translate(210.2 323.5) scale(0.9 1)"><text font-size="11" textLength="80.00" lengthAdjust="spacing">(attribute number</text></g>
<g transform="translate(215.6 333.5) scale(0.9 1)"><text font-size="11" textLength="66.67" lengthAdjust="spacing">of target type)</text></g>
<g transform="translate(211.5 400.5) scale(0.9 1)"><text font-size="11" textLength="75.00" lengthAdjust="spacing">transformation</text></g>
<g transform="translate(218.6 410) scale(0.9 1)"><text font-size="11" textLength="57.22" lengthAdjust="spacing">expression</text></g>
</g>
</svg>
</body></html>
